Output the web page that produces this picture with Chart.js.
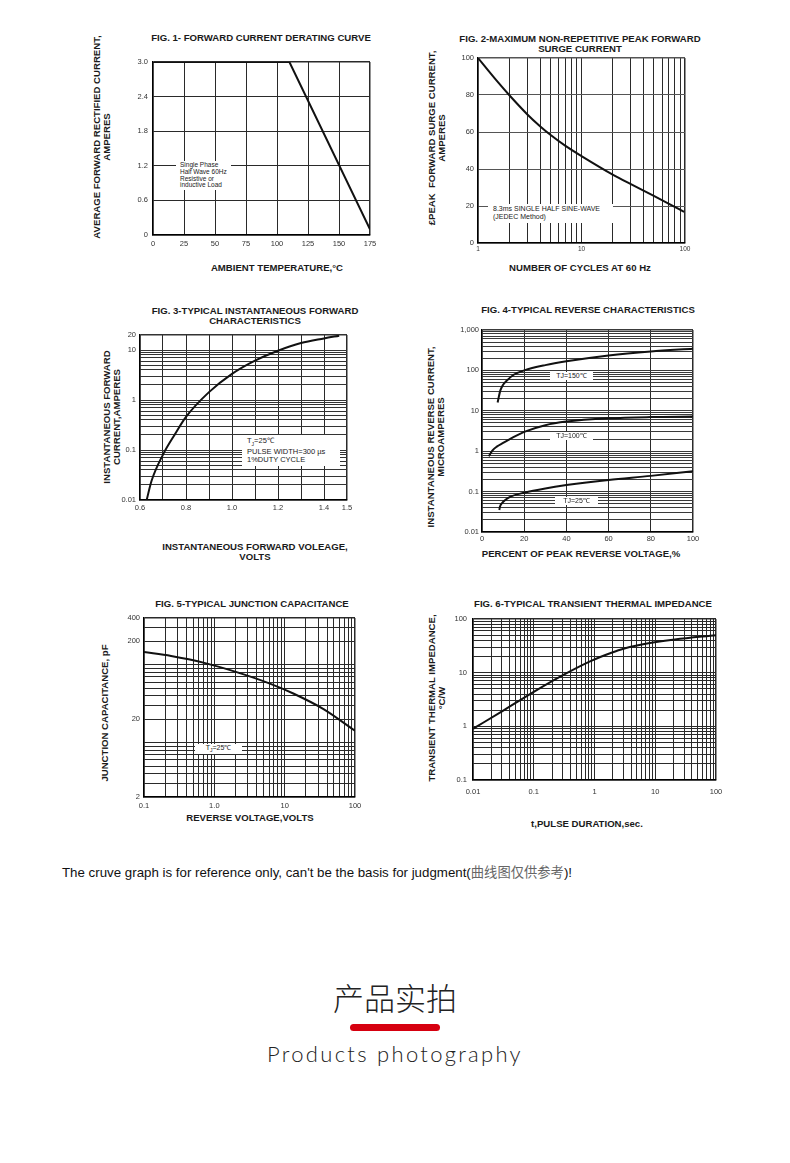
<!DOCTYPE html>
<html>
<head>
<meta charset="utf-8">
<title>Characteristic curves</title>
<script src="https://cdn.jsdelivr.net/npm/chart.js@4.4.0/dist/chart.umd.min.js"></script>
<style>
    html, body { margin: 0; padding: 0; background: #fff; }
    body {
        width: 790px; height: 1163px; position: relative; overflow: hidden;
        font-family: "Liberation Sans", Arial, sans-serif; color: #1a1a1a;
    }
    canvas { position: absolute; }
    .t {
        position: absolute; white-space: nowrap; text-align: center;
        transform: translate(-50%, -50%); font-weight: bold; font-size: 9.6px; line-height: 10px;
    }
    .rot { transform: translate(-50%, -50%) rotate(-90deg); }
    .note {
        position: absolute; background: #fff; white-space: nowrap;
        font-size: 7px; line-height: 8px; color: #222;
    }
    .remark { position: absolute; left: 62px; top: 862px; font-size: 13.3px; color: #111; white-space: nowrap; }
    .remark span { font-family: "Noto Sans CJK SC", sans-serif; color: #666; }
    .head { position: absolute; left: 395px; transform: translate(-50%, -50%); white-space: nowrap; color: #222; }
</style>
</head>
<body>

<!-- figure titles -->
<div class="t" style="left:261px; top:38px;">FIG. 1- FORWARD CURRENT DERATING CURVE</div>
<div class="t" style="left:580px; top:44px;">FIG. 2-MAXIMUM NON-REPETITIVE PEAK FORWARD<br>SURGE CURRENT</div>
<div class="t" style="left:255px; top:316px;">FIG. 3-TYPICAL INSTANTANEOUS FORWARD<br>CHARACTERISTICS</div>
<div class="t" style="left:588px; top:310px;">FIG. 4-TYPICAL REVERSE CHARACTERISTICS</div>
<div class="t" style="left:252px; top:604px;">FIG. 5-TYPICAL JUNCTION CAPACITANCE</div>
<div class="t" style="left:593px; top:604px;">FIG. 6-TYPICAL TRANSIENT THERMAL IMPEDANCE</div>

<!-- x axis titles -->
<div class="t" style="left:277px; top:268px;">AMBIENT TEMPERATURE,°C</div>
<div class="t" style="left:580px; top:268px;">NUMBER OF CYCLES AT 60 Hz</div>
<div class="t" style="left:255px; top:552px;">INSTANTANEOUS FORWARD VOLEAGE,<br>VOLTS</div>
<div class="t" style="left:581px; top:554px;">PERCENT OF PEAK REVERSE VOLTAGE,%</div>
<div class="t" style="left:250px; top:818px;">REVERSE VOLTAGE,VOLTS</div>
<div class="t" style="left:587px; top:824px;">t,PULSE DURATION,sec.</div>

<!-- y axis titles -->
<div class="t rot" style="left:102px; top:137px;">AVERAGE FORWARD RECTIFIED CURRENT,<br>AMPERES</div>
<div class="t rot" style="left:437px; top:138px;">£PEAK&nbsp;&nbsp;FORWARD SURGE CURRENT,<br>AMPERES</div>
<div class="t rot" style="left:112px; top:417px;">INSTANTANEOUS FORWARD<br>CURRENT,AMPERES</div>
<div class="t rot" style="left:436px; top:437px;">INSTANTANEOUS REVERSE CURRENT,<br>MICROAMPERES</div>
<div class="t rot" style="left:105px; top:713px;">JUNCTION CAPACITANCE, pF</div>
<div class="t rot" style="left:437px; top:698px;">TRANSIENT THERMAL IMPEDANCE,<br>°C/W</div>

<canvas id="fig1"></canvas>
<canvas id="fig2"></canvas>
<canvas id="fig3"></canvas>
<canvas id="fig4"></canvas>
<canvas id="fig5"></canvas>
<canvas id="fig6"></canvas>

<!-- notes inside the plots -->
<div class="note" style="left:176px; top:161px; padding:1px 4px; font-size:6.5px; line-height:6.8px;">Single Phase<br>Half Wave 60Hz<br>Resistive or<br>inductive Load</div>
<div class="note" style="left:488px; top:204px; width:120px; padding:1px 0 2px 5px;">8.3ms SINGLE HALF SINE-WAVE<br>(JEDEC Method)</div>
<div class="note" style="left:242px; top:435px; width:93px; padding:2px 0 2px 5px; font-size:7.5px;">T<sub style="font-size:5px">J</sub>=25℃<br>PULSE WIDTH=300 µs<br>1%DUTY CYCLE</div>
<div class="note" style="left:550px; top:372px; width:43px; text-align:center;">TJ=150℃</div>
<div class="note" style="left:550px; top:432px; width:43px; text-align:center;">TJ=100℃</div>
<div class="note" style="left:555px; top:497px; width:43px; text-align:center;">TJ=25℃</div>
<div class="note" style="left:195px; top:744px; width:47px; text-align:center;">T<sub style="font-size:5px">J</sub>=25℃</div>

<div class="remark">The cruve graph is for reference only, can't be the basis for judgment(<span>曲线图仅供参考</span>)!</div>

<div class="head" style="top:996px; font-family:'Noto Sans CJK SC', sans-serif; font-size:31px; font-weight:300;">产品实拍</div>
<div style="position:absolute; left:350px; top:1024px; width:90px; height:7px; border-radius:4px; background:#d6000f;"></div>
<div class="head" style="top:1053px; font-family:Lato, 'Noto Sans', sans-serif; font-size:22px; font-weight:300; letter-spacing:2.3px;">Products photography</div>

<script>
// ====================================
// DATA
// ====================================

// FIG. 1 - derating curve
const fig1Temp = [0, 110, 175];
const fig1Current = [3.0, 3.0, 0.1];
const fig1XTicks = [0, 25, 50, 75, 100, 125, 150, 175];
const fig1YTicks = [0, 0.6, 1.2, 1.8, 2.4, 3.0];

// FIG. 2 - surge current vs cycles
const fig2Cycles = [1, 1.5, 2, 3, 4, 5, 7, 10, 20, 30, 50, 70, 98];
const fig2Surge = [100, 88, 80, 69.5, 63, 58.5, 52.5, 47, 37, 31.8, 25.5, 21.2, 16.8];
const fig2XLabels = [1, 10, 100];
const fig2YTicks = [0, 20, 40, 60, 80, 100];

// FIG. 3 - forward characteristics
const fig3Volts = [0.629, 0.65, 0.7, 0.75, 0.8, 0.9, 1.0, 1.1, 1.2, 1.3, 1.4, 1.466];
const fig3Current = [0.01, 0.024, 0.081, 0.2, 0.46, 1.44, 3.34, 6.15, 9.7, 13.8, 17.1, 19.4];
const fig3XTicks = [0.6, 0.7, 0.8, 0.9, 1.0, 1.1, 1.2, 1.3, 1.4, 1.5];
const fig3XLabels = [0.6, 0.8, 1.0, 1.2, 1.4, 1.5];
const fig3YLabels = [0.01, 0.1, 1, 10, 20];

// FIG. 4 - reverse characteristics
const fig4Pct150 = [7.4, 8.7, 10, 11.8, 15, 20, 30, 40, 60, 80, 100];
const fig4Curr150 = [16, 32, 44, 56, 78, 100, 135, 168, 235, 295, 345];
const fig4Pct100 = [3.2, 5, 7, 10, 14, 20, 30, 40, 60, 80, 100];
const fig4Curr100 = [0.75, 1.05, 1.3, 1.6, 2.1, 3.0, 4.4, 5.4, 6.5, 7.0, 7.2];
const fig4Pct25 = [8.2, 8.5, 9.5, 11, 13.5, 20, 30, 40, 60, 80, 100];
const fig4Curr25 = [0.035, 0.042, 0.052, 0.062, 0.075, 0.094, 0.12, 0.145, 0.195, 0.245, 0.32];
const fig4XTicks = [0, 20, 40, 60, 80, 100];
const fig4YLabels = [0.01, 0.1, 1, 10, 100, 1000];

// FIG. 5 - junction capacitance
const fig5Volts = [0.1, 0.243, 0.72, 2.13, 6.3, 13.5, 35.7, 100];
const fig5Cap = [146, 130, 106, 80, 57, 42.5, 27, 14.2];
const fig5XLabels = [0.1, 1, 10, 100];
const fig5YLabels = [2, 20, 200, 400];

// FIG. 6 - transient thermal impedance
const fig6Time = [0.01, 0.03, 0.1, 0.33, 0.9, 1.9, 3, 6, 21, 100];
const fig6Imp = [0.9, 1.9, 4.4, 9.5, 16.8, 23.5, 28, 33.5, 41.5, 50];
const fig6XLabels = [0.01, 0.1, 1, 10, 100];
const fig6YLabels = [0.1, 1, 10, 100];

// ====================================
// HELPERS
// ====================================

const TICK_FONT = { family: 'Liberation Sans', size: 7.5 };

// 1..9 x 10^n grid values between min and max
function logTicks(min, max) {
    const out = [];
    for (let e = Math.floor(Math.log10(min)); e <= Math.ceil(Math.log10(max)); e++) {
        for (let k = 1; k < 10; k++) {
            const v = Number((k * Math.pow(10, e)).toPrecision(6));
            if (v >= min * 0.999999 && v <= max * 1.000001) out.push(v);
        }
    }
    return out;
}

// show text only on the listed values
function labelsOn(list, fmt) {
    return function(value) {
        const hit = list.find(l => Math.abs(l - value) <= Math.abs(l) * 1e-6 + 1e-12);
        return hit === undefined ? '' : fmt(hit);
    };
}

function pairs(xs, ys) {
    return xs.map((x, i) => ({ x: x, y: ys[i] }));
}

function curve(xs, ys, smooth) {
    return {
        data: pairs(xs, ys),
        borderColor: '#111',
        borderWidth: 2,
        pointRadius: 0,
        fill: false,
        cubicInterpolationMode: smooth ? 'monotone' : 'default',
        tension: 0
    };
}

function axis(opt, isX) {
    const edge = ctx => (ctx.tick && (Math.abs(ctx.tick.value - opt.min) < 1e-9 || Math.abs(ctx.tick.value - opt.max) < 1e-9)) ? 1.5 : 1;
    return {
        type: opt.type,
        min: opt.min,
        max: opt.max,
        afterBuildTicks: scale => { scale.ticks = opt.ticks.map(v => ({ value: v })); },
        afterFit: scale => {
            if (isX) { scale.height = opt.size; scale.paddingLeft = 0; scale.paddingRight = 0; }
            else { scale.width = opt.size; scale.paddingTop = 0; scale.paddingBottom = 0; }
        },
        grid: { color: opt.grid || '#2a2a2a', lineWidth: edge, drawTicks: false },
        border: { display: true, color: '#000', width: 1.5 },
        ticks: {
            autoSkip: false,
            maxRotation: 0,
            minRotation: 0,
            padding: opt.pad,
            color: '#333',
            font: opt.font || TICK_FONT,
            callback: opt.label
        }
    };
}

// box = plot area in page pixels
function makeChart(id, box, xOpt, yOpt, datasets) {
    const padTop = 7, padRight = 14;
    const canvas = document.getElementById(id);
    const w = box.r - box.l + yOpt.size + padRight;
    const h = box.b - box.t + padTop + xOpt.size;
    canvas.width = w;
    canvas.height = h;
    canvas.style.width = w + 'px';
    canvas.style.height = h + 'px';
    canvas.style.left = (box.l - yOpt.size) + 'px';
    canvas.style.top = (box.t - padTop) + 'px';

    return new Chart(canvas, {
        type: 'line',
        data: { datasets: datasets },
        options: {
            responsive: false,
            animation: false,
            devicePixelRatio: 1,
            layout: { autoPadding: false, padding: { top: padTop, right: padRight, left: 0, bottom: 0 } },
            plugins: { legend: { display: false }, tooltip: { enabled: false } },
            scales: { x: axis(xOpt, true), y: axis(yOpt, false) }
        }
    });
}

// ====================================
// CHARTS
// ====================================

makeChart('fig1', { l: 153, t: 62, r: 370, b: 235 },
    { type: 'linear', min: 0, max: 175, ticks: fig1XTicks, size: 20, pad: 4, label: v => String(v) },
    { type: 'linear', min: 0, max: 3.0, ticks: fig1YTicks, size: 34, pad: 5, label: v => v === 0 ? '0' : v.toFixed(1) },
    [curve(fig1Temp, fig1Current, false)]);

makeChart('fig2', { l: 478, t: 58, r: 685, b: 243 },
    { type: 'logarithmic', min: 1, max: 100, ticks: logTicks(1, 100), size: 16, pad: 2,
      font: { family: 'Liberation Sans', size: 6.5 }, label: labelsOn(fig2XLabels, v => String(v)) },
    { type: 'linear', min: 0, max: 100, ticks: fig2YTicks, size: 30, pad: 4, grid: '#555', label: v => String(v) },
    [curve(fig2Cycles, fig2Surge, true)]);

makeChart('fig3', { l: 140, t: 335, r: 347, b: 500 },
    { type: 'linear', min: 0.6, max: 1.5, ticks: fig3XTicks, size: 18, pad: 3, label: labelsOn(fig3XLabels, v => v.toFixed(1)) },
    { type: 'logarithmic', min: 0.01, max: 20, ticks: logTicks(0.01, 20), size: 34, pad: 4, grid: '#333', label: labelsOn(fig3YLabels, v => String(v)) },
    [curve(fig3Volts, fig3Current, true)]);

makeChart('fig4', { l: 482, t: 330, r: 693, b: 532 },
    { type: 'linear', min: 0, max: 100, ticks: fig4XTicks, size: 16, pad: 2, label: v => String(v) },
    { type: 'logarithmic', min: 0.01, max: 1000, ticks: logTicks(0.01, 1000), size: 34, pad: 3, grid: '#3a3a3a',
      label: labelsOn(fig4YLabels, v => v >= 1000 ? v.toLocaleString('en-US') : String(v)) },
    [curve(fig4Pct150, fig4Curr150, true), curve(fig4Pct100, fig4Curr100, true), curve(fig4Pct25, fig4Curr25, true)]);

makeChart('fig5', { l: 144, t: 618, r: 355, b: 797 },
    { type: 'logarithmic', min: 0.1, max: 100, ticks: logTicks(0.1, 100), size: 16, pad: 4,
      label: labelsOn(fig5XLabels, v => v === 1 ? '1.0' : String(v)) },
    { type: 'logarithmic', min: 2, max: 400, ticks: logTicks(2, 400), size: 34, pad: 4, label: labelsOn(fig5YLabels, v => String(v)) },
    [curve(fig5Volts, fig5Cap, true)]);

makeChart('fig6', { l: 473, t: 619, r: 716, b: 780 },
    { type: 'logarithmic', min: 0.01, max: 100, ticks: logTicks(0.01, 100), size: 18, pad: 7,
      label: labelsOn(fig6XLabels, v => String(v)) },
    { type: 'logarithmic', min: 0.1, max: 100, ticks: logTicks(0.1, 100), size: 34, pad: 6, label: labelsOn(fig6YLabels, v => String(v)) },
    [curve(fig6Time, fig6Imp, true)]);
</script>
</body>
</html>
